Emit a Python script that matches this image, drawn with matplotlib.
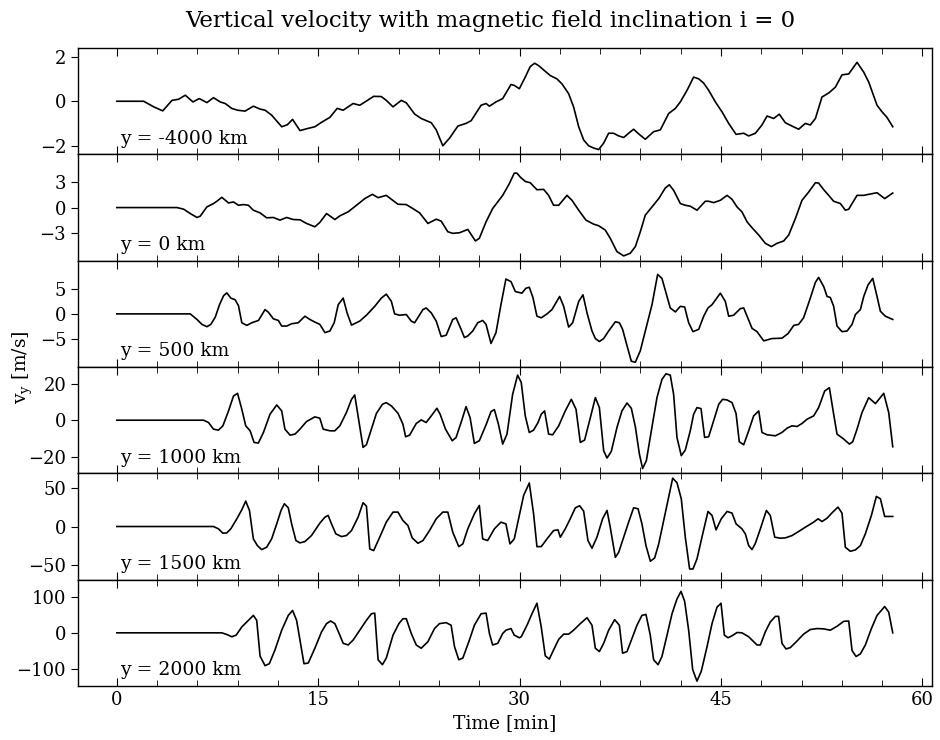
import numpy as np
import matplotlib.pyplot as plt
from matplotlib.ticker import MultipleLocator

plt.rcParams['font.family'] = 'DejaVu Serif'
plt.rcParams['mathtext.fontset'] = 'dejavuserif'

# y = -4000 km
t_m4000 = [0, 2.0, 2.75, 3.42, 4.11, 4.60, 5.10, 5.67, 6.14, 6.71, 7.20, 7.70, 8.07, 8.56, 8.99,
           9.55, 10.17, 10.67, 11.04, 11.53, 12.28, 12.70, 13.09, 13.64, 14.26, 14.75, 15.25,
           15.87, 16.41, 16.86, 17.60, 18.09, 18.59, 19.13, 19.70, 20.07, 20.57, 21.19, 21.56,
           22.18, 22.67, 23.42, 23.79, 24.28, 24.78, 25.40, 26.01, 26.39, 27.13, 27.50, 27.75,
           28.24, 28.74, 29.36, 29.60, 29.98, 30.42, 30.79, 31.12, 31.42, 31.79, 32.28, 32.78,
           33.15, 33.65, 34.02, 34.40, 34.77, 35.14, 35.51, 35.89, 36.26, 36.63, 37.00, 37.38,
           37.75, 38.12, 38.49, 38.87, 39.36, 39.98, 40.48, 41.10, 41.60, 41.97, 42.47, 42.96,
           43.34, 43.71, 44.08, 44.58, 45.07, 45.57, 46.12, 46.69, 47.06, 47.56, 48.05, 48.43,
           48.92, 49.34, 49.79, 50.29, 50.78, 51.28, 51.65, 52.03, 52.52, 53.02, 53.52, 54.01,
           54.51, 55.13, 55.63, 56.00, 56.62, 56.99, 57.36, 57.79]
vy_m4000 = [0, 0, -0.25, -0.43, 0.04, 0.09, 0.27, -0.03, 0.12, -0.06, 0.16, -0.03, -0.10, -0.32,
            -0.40, -0.44, -0.22, -0.35, -0.40, -0.62, -1.14, -1.05, -0.81, -1.31, -1.21, -1.14,
            -0.94, -0.72, -0.32, -0.40, -0.10, -0.18, 0.01, 0.22, 0.21, 0.04, -0.25, 0.04, -0.07,
            -0.57, -0.77, -0.96, -1.28, -1.99, -1.65, -1.11, -0.99, -0.87, -0.18, -0.10, -0.22,
            -0.03, 0.12, 0.75, 0.71, 0.56, 1.08, 1.55, 1.70, 1.59, 1.40, 1.15, 1.00, 0.78, 0.34,
            -0.25, -1.14, -1.73, -1.99, -2.09, -2.16, -1.87, -1.43, -1.43, -1.55, -1.62, -1.43,
            -1.25, -1.46, -1.70, -1.36, -1.28, -0.55, -0.32, -0.03, 0.49, 1.08, 1.00, 0.81, 0.49,
            -0.03, -0.47, -0.99, -1.48, -1.43, -1.55, -1.43, -1.06, -0.66, -0.77, -0.58, -0.96,
            -1.11, -1.25, -0.99, -1.06, -0.77, 0.19, 0.37, 0.63, 1.18, 1.22, 1.74, 1.30, 0.86,
            -0.18, -0.47, -0.72, -1.14]

# y = 0 km
t_0 = [0, 4.48, 4.98, 5.47, 5.97, 6.21, 6.71, 7.20, 7.45, 7.82, 8.32, 8.69, 9.06, 9.43, 9.80,
       10.17, 10.67, 11.16, 11.66, 12.15, 12.65, 13.14, 13.64, 14.13, 14.75, 15.12, 15.62, 16.24,
       16.61, 17.23, 17.85, 18.47, 19.03, 19.46, 20.07, 20.45, 20.94, 21.56, 22.05, 22.55, 23.17,
       23.79, 24.16, 24.65, 25.02, 25.52, 26.14, 26.71, 27.00, 27.50, 27.99, 28.74, 29.23, 29.60,
       29.80, 30.05, 30.42, 30.79, 31.29, 31.79, 32.16, 32.53, 32.91, 33.53, 33.90, 34.40, 34.94,
       35.51, 35.89, 36.38, 36.75, 37.25, 37.75, 38.24, 38.62, 38.99, 39.36, 39.86, 40.36, 40.85,
       41.15, 41.47, 41.97, 42.34, 42.71, 43.21, 43.83, 44.08, 44.45, 44.95, 45.45, 45.82, 46.19,
       46.56, 46.94, 47.31, 47.81, 48.30, 48.75, 49.17, 49.67, 50.04, 50.54, 51.03, 51.53, 52.03,
       52.27, 52.65, 53.02, 53.39, 53.89, 54.26, 54.51, 55.13, 55.63, 56.00, 56.62, 57.19, 57.79]
vy_0 = [0, 0, -0.19, -0.70, -1.16, -1.01, 0.08, 0.47, 0.74, 1.20, 0.54, 0.66, 0.27, 0.35, 0.27,
        -0.31, -0.62, -1.20, -1.16, -1.47, -1.16, -1.40, -1.43, -1.86, -2.25, -1.74, -0.70, -1.40,
        -0.97, -0.50, 0.27, 1.05, 1.55, 1.16, 1.43, 0.97, 0.39, 0.35, -0.12, -0.62, -1.86, -1.36,
        -1.59, -2.83, -3.02, -2.95, -2.56, -3.91, -3.60, -1.67, -0.12, 1.43, 2.79, 4.03, 4.03,
        3.57, 3.06, 2.91, 2.09, 2.13, 1.43, 0.27, 0.27, 1.43, 0.85, -0.31, -1.47, -1.94, -2.13,
        -2.64, -3.60, -5.16, -5.66, -5.35, -4.57, -2.83, -0.89, 0.08, 1.05, 2.29, 2.67, 2.02,
        0.47, 0.27, 0.16, -0.31, 0.74, 0.74, 0.58, 0.85, 1.43, 0.97, 0.08, -0.50, -1.67, -2.36,
        -3.22, -4.19, -4.57, -4.19, -3.91, -3.22, -1.28, 0.85, 1.82, 2.91, 2.87, 2.09, 1.43, 0.74,
        0.47, -0.31, -0.19, 1.43, 1.43, 1.55, 1.74, 1.05, 1.70]

# y = 500 km
t_500 = [0, 5.47, 5.97, 6.34, 6.71, 7.00, 7.33, 7.65, 7.95, 8.19, 8.49, 8.81, 9.06, 9.31, 9.68,
         10.05, 10.55, 11.04, 11.29, 11.66, 12.03, 12.28, 12.65, 13.02, 13.51, 14.01, 14.38,
         14.75, 15.12, 15.50, 15.87, 16.19, 16.49, 16.86, 17.15, 17.48, 18.09, 18.59, 19.21,
         19.70, 20.07, 20.45, 20.69, 21.06, 21.56, 21.93, 22.18, 22.80, 23.04, 23.42, 23.79,
         24.16, 24.53, 25.02, 25.27, 25.64, 25.89, 26.14, 26.51, 26.88, 27.25, 27.50, 27.87,
         28.24, 28.61, 28.98, 29.36, 29.68, 30.17, 30.47, 30.72, 30.99, 31.29, 31.61, 32.04,
         32.41, 32.98, 33.28, 33.65, 33.95, 34.40, 34.72, 35.02, 35.39, 35.64, 35.94, 36.26,
         36.63, 37.13, 37.43, 37.67, 38.00, 38.32, 38.62, 38.99, 39.36, 39.86, 40.28, 40.60,
         40.98, 41.22, 41.60, 41.97, 42.29, 42.59, 42.91, 43.34, 43.71, 44.03, 44.33, 44.95,
         45.32, 45.57, 45.94, 46.44, 46.69, 46.94, 47.31, 47.68, 48.18, 48.80, 49.54, 49.99,
         50.42, 50.78, 51.15, 51.65, 52.03, 52.27, 52.65, 52.90, 53.14, 53.39, 53.64, 54.01,
         54.39, 54.76, 55.01, 55.38, 55.63, 55.95, 56.30, 56.62, 56.87, 57.24, 57.79]
vy_500 = [0, 0, -1.13, -2.13, -2.60, -2.13, -0.67, 1.87, 3.67, 4.27, 3.20, 2.87, 1.67, -1.80,
          -2.33, -1.80, -1.33, 0.87, 0.33, -1.00, -1.33, -2.47, -2.47, -2.00, -1.80, -0.47,
          -1.13, -1.67, -2.13, -3.80, -3.47, -1.80, 1.87, 3.20, 0.20, -2.27, -1.47, -0.27, 1.53,
          3.20, 4.00, 2.53, 0.00, -0.27, -0.13, -1.47, -1.80, 0.87, 1.20, 0.20, -1.47, -4.60,
          -4.33, -1.13, -0.80, -3.13, -4.80, -4.47, -3.47, -1.80, -1.33, -2.13, -6.00, -3.80,
          1.87, 7.07, 6.53, 4.53, 4.20, 5.20, 5.40, 3.33, -0.47, -0.80, 0.00, 0.87, 3.53, 1.53,
          -2.67, -1.80, 2.53, 3.87, 0.20, -3.47, -5.00, -5.60, -5.00, -3.47, -1.60, -1.80, -3.13,
          -6.47, -9.60, -9.80, -7.47, -3.47, 1.87, 8.00, 7.20, 3.53, 1.20, 0.40, 1.53, 1.40,
          -1.80, -3.60, -3.13, -0.47, 1.20, 1.87, 4.20, 2.53, -0.47, -0.27, 1.07, 1.20, -0.47,
          -2.93, -3.60, -5.47, -5.00, -4.93, -4.00, -2.33, -2.13, -0.80, 3.20, 6.40, 7.40, 5.53,
          3.53, 3.33, 1.53, -2.47, -3.60, -3.47, -2.13, -0.13, 0.87, 3.53, 5.87, 7.20, 3.53,
          0.53, -0.47, -1.13]

# y = 1000 km
t_1000 = [0, 6.46, 6.83, 7.20, 7.57, 7.90, 8.32, 8.69, 8.99, 9.31, 9.60, 9.93, 10.22, 10.54,
          10.92, 11.41, 11.91, 12.28, 12.52, 12.90, 13.27, 13.64, 14.13, 14.75, 15.12, 15.37,
          15.87, 16.24, 16.61, 17.10, 17.48, 17.72, 17.97, 18.34, 18.59, 18.96, 19.33, 19.78,
          20.07, 20.45, 20.94, 21.31, 21.51, 21.81, 22.30, 22.67, 23.04, 23.42, 23.84, 24.08,
          24.48, 24.98, 25.27, 25.72, 26.01, 26.31, 26.63, 27.00, 27.50, 27.87, 28.12, 28.42,
          28.74, 29.06, 29.48, 29.85, 30.12, 30.42, 30.72, 31.04, 31.37, 31.61, 31.86, 32.16,
          32.46, 32.91, 33.40, 33.85, 34.20, 34.52, 34.84, 35.27, 35.64, 35.94, 36.26, 36.51,
          36.83, 37.25, 37.62, 38.00, 38.32, 38.62, 38.92, 39.16, 39.44, 39.81, 40.23, 40.60,
          40.90, 41.22, 41.47, 41.72, 42.04, 42.34, 42.71, 42.96, 43.21, 43.51, 43.78, 44.08,
          44.45, 44.83, 45.12, 45.45, 45.82, 46.12, 46.36, 46.69, 47.06, 47.43, 47.81, 48.05,
          48.43, 49.05, 49.54, 49.92, 50.29, 50.66, 51.03, 51.41, 51.90, 52.27, 52.72, 53.07,
          53.39, 53.64, 54.14, 54.56, 54.81, 55.13, 55.50, 56.00, 56.50, 57.12, 57.49, 57.79]
vy_1000 = [0, 0, -1.27, -4.91, -5.45, -3.09, 5.09, 13.27, 14.73, 6.00, -3.09, -5.82, -12.18,
           -12.55, -6.73, 3.27, 8.36, 5.09, -4.91, -8.18, -7.64, -4.91, -0.73, 1.82, 1.09,
           -4.91, -5.82, -5.82, -3.09, 4.18, 11.45, 13.82, 2.36, -14.91, -13.45, -4.91, 3.64,
           8.73, 9.64, 7.82, 3.82, -2.18, -9.09, -8.18, -1.82, 0.18, -1.27, 2.36, 6.55, 3.27,
           -4.91, -11.27, -9.45, 0.55, 7.45, 1.45, -12.73, -11.27, -2.55, 4.73, 5.82, -2.18,
           -13.09, -7.64, 14.18, 24.73, 20.73, 2.36, -6.73, -5.45, -1.27, 3.27, 5.09, -7.64,
           -8.00, -3.09, 5.09, 11.45, 6.00, -12.18, -10.91, 1.45, 12.36, 6.91, -16.73, -20.73,
           -17.09, -4.00, 5.09, 9.45, 6.55, -3.64, -18.55, -26.5, -22.18, -5.82, 12.36, 22.36,
           25.45, 24.73, 14.18, -9.45, -19.45, -16.36, -5.82, 3.27, 6.91, 6.36, -9.45, -9.09,
           -0.36, 8.73, 11.45, 11.09, 9.64, 3.64, -11.82, -13.45, -5.82, 2.36, 5.09, -6.73,
           -8.00, -8.55, -6.73, -4.36, -3.09, -3.45, -1.82, 0.55, 2.36, 6.91, 16.00, 17.82,
           3.27, -7.64, -10.36, -13.09, -11.82, -4.91, 4.18, 12.36, 9.09, 14.73, 4.18, -14.55]

# y = 1500 km
t_1500 = [0, 7.20, 7.57, 7.90, 8.19, 8.49, 8.94, 9.31, 9.60, 9.88, 10.17, 10.47, 10.79, 11.16,
          11.53, 11.91, 12.23, 12.48, 12.77, 13.02, 13.34, 13.64, 14.01, 14.50, 15.12, 15.50,
          15.74, 15.99, 16.31, 16.73, 17.10, 17.48, 17.97, 18.34, 18.59, 18.84, 19.13, 19.58,
          20.07, 20.57, 20.94, 21.31, 21.68, 22.00, 22.43, 22.80, 23.29, 23.79, 24.28, 24.65,
          25.02, 25.47, 25.77, 26.14, 26.63, 27.00, 27.25, 27.62, 28.12, 28.61, 28.98, 29.28,
          29.60, 29.98, 30.30, 30.72, 31.04, 31.29, 31.61, 32.04, 32.53, 32.86, 33.03, 33.40,
          33.77, 34.15, 34.47, 34.77, 35.09, 35.39, 35.76, 36.18, 36.51, 36.75, 37.13, 37.38,
          37.75, 38.12, 38.49, 38.82, 39.11, 39.41, 39.74, 40.06, 40.36, 40.73, 41.10, 41.40,
          41.72, 42.04, 42.34, 42.66, 42.91, 43.21, 43.58, 44.03, 44.33, 44.63, 45.02, 45.45,
          45.82, 46.12, 46.56, 46.81, 47.06, 47.31, 47.56, 47.93, 48.38, 48.67, 49.00, 49.42,
          49.79, 50.29, 50.78, 51.28, 51.90, 52.23, 52.52, 52.90, 53.27, 53.71, 54.01, 54.26,
          54.63, 55.01, 55.38, 55.75, 56.20, 56.57, 56.87, 57.19, 57.79]
vy_1500 = [0, 0, -3.0, -8.6, -8.2, -3.0, 9.9, 21.5, 32.6, 20.6, -15.9, -24.5, -29.6, -26.6,
           -15.9, 3.4, 20.6, 29.2, 24.0, 3.4, -18.0, -21.0, -19.3, -11.6, 4.3, 12.0, 14.2, 3.4,
           -9.4, -12.9, -11.6, -5.2, 12.0, 30.5, 26.2, -28.8, -30.9, -13.7, 5.6, 18.5, 18.5, 7.7,
           1.3, -14.6, -21.5, -18.0, -5.2, 9.9, 18.5, 18.5, -7.3, -25.8, -22.3, -3.0, 16.3, 27.0,
           -15.9, -18.0, -3.0, 5.6, 3.4, -22.3, -15.9, 14.2, 39.9, 55.8, 16.3, -25.8, -25.8,
           -15.9, -5.2, -4.3, -13.7, -3.0, 9.9, 24.0, 26.6, 19.7, -18.0, -27.9, -13.7, 9.9, 20.6,
           -0.9, -39.5, -33.1, -13.7, 5.6, 24.0, 22.8, 3.4, -24.5, -44.6, -40.3, -22.3, 7.7, 37.8,
           62.0, 56.2, 35.6, -13.7, -54.5, -54.5, -41.6, -13.7, 19.3, 14.2, -4.3, 9.9, 19.3, 17.2,
           3.4, -3.0, -9.4, -24.5, -29.6, -21.5, -3.0, 20.6, 14.2, -13.7, -15.0, -14.6, -11.6,
           -6.4, -0.9, 5.6, 9.9, 6.4, 10.7, 17.6, 24.9, 17.2, -26.6, -31.8, -30.0, -24.5, -9.4,
           14.2, 38.6, 35.6, 12.9, 12.9]

# y = 2000 km
t_2000 = [0, 7.82, 8.19, 8.56, 8.89, 9.31, 9.80, 10.17, 10.42, 10.67, 11.04, 11.36, 11.78,
          12.28, 12.77, 13.09, 13.39, 13.94, 14.26, 14.75, 15.25, 15.62, 15.92, 16.24, 16.61,
          16.86, 17.23, 17.60, 18.09, 18.59, 18.96, 19.21, 19.46, 19.78, 20.07, 20.57, 21.01,
          21.31, 21.56, 21.93, 22.30, 22.67, 23.17, 23.66, 24.03, 24.53, 24.90, 25.15, 25.47,
          25.77, 26.26, 26.63, 27.13, 27.50, 27.75, 27.99, 28.37, 28.74, 28.98, 29.36, 29.60,
          29.98, 30.12, 30.55, 30.92, 31.29, 31.61, 31.91, 32.21, 32.53, 32.91, 33.28, 33.65,
          34.02, 34.52, 35.02, 35.39, 35.64, 35.94, 36.26, 36.63, 37.08, 37.43, 37.67, 38.00,
          38.37, 38.74, 39.11, 39.41, 39.73, 39.98, 40.31, 40.60, 40.98, 41.35, 41.72, 42.02,
          42.29, 42.59, 42.89, 43.21, 43.53, 43.96, 44.33, 44.70, 45.00, 45.25, 45.52, 45.82,
          46.19, 46.56, 47.06, 47.68, 47.93, 48.30, 48.67, 49.05, 49.29, 49.54, 49.84, 50.16,
          50.66, 51.15, 51.65, 52.15, 52.65, 53.14, 53.64, 54.14, 54.51, 54.76, 55.06, 55.38,
          55.75, 56.20, 56.62, 57.19, 57.49, 57.79]
vy_2000 = [0, 0, -4.6, -11.0, -6.4, 16.5, 34.9, 48.6, 34.9, -65.1, -91.7, -86.2, -47.7, 7.3,
           48.6, 62.4, 34.9, -86.2, -84.4, -43.1, 2.8, 25.7, 33.0, 25.7, -6.4, -29.4, -33.9,
           -20.2, 7.3, 34.9, 53.2, 55.0, -75.2, -89.0, -70.6, -6.4, 25.7, 39.4, 39.4, -1.8,
           -33.9, -43.1, -24.8, 11.9, 25.7, 28.4, 21.1, -38.5, -75.2, -70.6, -20.2, 21.1, 53.2,
           55.0, -1.8, -33.9, -29.4, -1.8, 7.3, 11.9, -6.4, -13.8, -11.0, 21.1, 53.2, 82.6, 16.5,
           -64.2, -73.4, -47.7, -18.3, -3.7, -3.7, 7.3, 25.7, 42.2, 21.1, -43.1, -52.3, -29.4,
           7.3, 36.7, 21.1, -56.9, -52.3, -15.6, 21.1, 48.6, 51.4, -6.4, -75.2, -89.0, -66.1,
           -6.4, 53.2, 94.5, 115.6, 88.1, 7.3, -102.8, -134.9, -107.3, -38.5, 25.7, 71.6, 82.6,
           -6.4, -13.8, -8.3, 0.9, 0.0, -11.0, -33.9, -33.9, 2.8, 30.3, 45.9, 45.9, -29.4, -45.0,
           -41.3, -22.9, -3.7, 9.2, 11.9, 11.0, 7.3, 18.3, 32.1, 33.0, -49.5, -66.1, -58.7, -33.9,
           11.9, 48.6, 73.4, 57.8, 0.0]

times = [t_m4000, t_0, t_500, t_1000, t_1500, t_2000]
series = [vy_m4000, vy_0, vy_500, vy_1000, vy_1500, vy_2000]
heights = ['-4000', '0', '500', '1000', '1500', '2000']
yticks = [[-2, 0, 2], [-3, 0, 3], [-5, 0, 5], [-20, 0, 20], [-50, 0, 50], [-100, 0, 100]]

fig, axes = plt.subplots(6, 1, sharex=True, figsize=(9.4, 7.4), dpi=100)
fig.subplots_adjust(left=0.083, right=0.991, top=0.935, bottom=0.073, hspace=0)

for ax, t, vy, h, yt in zip(axes, times, series, heights, yticks):
    ax.plot(t, vy, color='black', linewidth=1.2)
    # symmetric range around zero
    vmax = 1.1 * np.max(np.abs(vy))
    ax.set_ylim(-vmax, vmax)
    ax.set_yticks(yt)
    ax.text(0.049, 0.10, 'y = %s km' % h, transform=ax.transAxes, fontsize=13.5)
    ax.xaxis.set_major_locator(MultipleLocator(15))
    ax.xaxis.set_minor_locator(MultipleLocator(3))
    ax.tick_params(axis='x', which='both', direction='in', top=True, labelsize=13)
    ax.tick_params(axis='x', which='major', length=6)
    ax.tick_params(axis='x', which='minor', length=4)
    ax.tick_params(axis='y', direction='out', length=5, labelsize=13)
    for sp in ax.spines.values():
        sp.set_linewidth(1.0)

axes[-1].set_xlabel('Time [min]', fontsize=13.5)
fig.text(0.024, 0.504, r'$\mathregular{v_y}$ [m/s]', rotation=90, va='center', ha='center', fontsize=13.5)
fig.suptitle('Vertical velocity with magnetic field inclination i = 0', fontsize=16.5,
             x=0.522, y=0.987)

fig.savefig('out.png')
